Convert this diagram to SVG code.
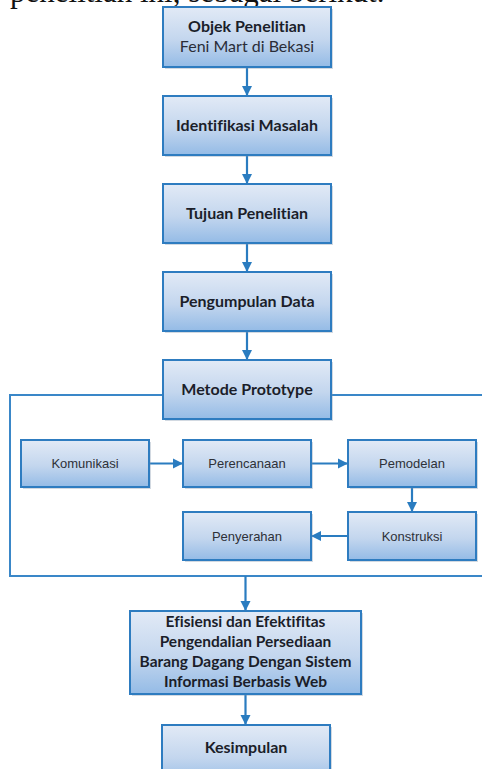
<svg xmlns="http://www.w3.org/2000/svg" width="482" height="769" viewBox="0 0 482 769">
  <defs>
    <linearGradient id="boxFill" x1="0" y1="0" x2="0" y2="1">
      <stop offset="0" stop-color="#e2eaf6"/>
      <stop offset="0.55" stop-color="#c3d6ee"/>
      <stop offset="1" stop-color="#94bbe6"/>
    </linearGradient>
    <marker id="arrow" viewBox="0 0 10 10" refX="10" refY="5" markerWidth="4.6" markerHeight="4.6" markerUnits="strokeWidth" orient="auto">
      <path d="M0,0 L10,5 L0,10 Z" fill="#2a7cc0"/>
    </marker>
    <style>
      .box { fill: url(#boxFill); stroke: #2e7cc0; stroke-width: 2; }
      .shadow { fill: #7f93a8; opacity: 0.35; }
      .title { font-family: Lato, "Open Sans", sans-serif; font-weight: bold; font-size: 16px; fill: #1b1e2a; text-anchor: middle; font-variant-ligatures: none; }
      .title.multi { font-size: 15.5px; }
      .sub { font-family: Lato, "Open Sans", sans-serif; font-size: 16px; fill: #2a2d38; text-anchor: middle; }
      .step { font-family: "Liberation Sans", Arial, sans-serif; font-size: 13px; fill: #2e3138; text-anchor: middle; }
      .conn { stroke: #2a7cc0; stroke-width: 2.2; fill: none; marker-end: url(#arrow); }
      .frame { stroke: #3a87c8; stroke-width: 2; fill: none; }
      .body { font-family: "Liberation Serif", "Times New Roman", serif; font-size: 31px; fill: #111; }
    </style>
  </defs>

  <rect width="482" height="769" fill="#ffffff"/>

  <!-- running text line above the chart, clipped by the page top -->
  <text class="body" x="10" y="2">penelitian ini, sebagai berikut.</text>

  <!-- prototype frame -->
  <g id="frame">
    <polyline class="frame" points="163,395 10,395 10,576 482,576"/>
    <line class="frame" x1="331" y1="395" x2="482" y2="395"/>
  </g>

  <!-- connectors -->
  <g id="connectors">
    <line class="conn" x1="247" y1="67" x2="247" y2="96"/>
    <line class="conn" x1="247" y1="155" x2="247" y2="184"/>
    <line class="conn" x1="247" y1="243" x2="247" y2="272"/>
    <line class="conn" x1="247" y1="331" x2="247" y2="360"/>
    <line class="conn" x1="149" y1="463.5" x2="183" y2="463.5"/>
    <line class="conn" x1="311" y1="463.5" x2="348" y2="463.5"/>
    <line class="conn" x1="412" y1="487" x2="412" y2="512"/>
    <line class="conn" x1="348" y1="536" x2="311" y2="536"/>
    <line class="conn" x1="245.5" y1="576" x2="245.5" y2="611"/>
    <line class="conn" x1="245.5" y1="694" x2="245.5" y2="725"/>
  </g>

  <g id="objek">
    <rect class="shadow" x="165" y="9" width="168" height="60"/>
    <rect class="box" x="163" y="7" width="168" height="60"/>
    <text class="title" x="247" y="32">Objek Penelitian</text>
    <text class="sub" x="247" y="52">Feni Mart di Bekasi</text>
  </g>

  <g id="identifikasi">
    <rect class="shadow" x="165" y="98" width="168" height="59"/>
    <rect class="box" x="163" y="96" width="168" height="59"/>
    <text class="title" x="247" y="131">Identifikasi Masalah</text>
  </g>

  <g id="tujuan">
    <rect class="shadow" x="165" y="186" width="168" height="59"/>
    <rect class="box" x="163" y="184" width="168" height="59"/>
    <text class="title" x="247" y="219">Tujuan Penelitian</text>
  </g>

  <g id="pengumpulan">
    <rect class="shadow" x="165" y="274" width="168" height="59"/>
    <rect class="box" x="163" y="272" width="168" height="59"/>
    <text class="title" x="247" y="307">Pengumpulan Data</text>
  </g>

  <g id="metode">
    <rect class="shadow" x="165" y="362" width="168" height="59"/>
    <rect class="box" x="163" y="360" width="168" height="59"/>
    <text class="title" x="247" y="395">Metode Prototype</text>
  </g>

  <g id="komunikasi">
    <rect class="shadow" x="23" y="442" width="128" height="47"/>
    <rect class="box" x="21" y="440" width="128" height="47"/>
    <text class="step" x="85" y="468">Komunikasi</text>
  </g>

  <g id="perencanaan">
    <rect class="shadow" x="185" y="442" width="128" height="47"/>
    <rect class="box" x="183" y="440" width="128" height="47"/>
    <text class="step" x="247" y="468">Perencanaan</text>
  </g>

  <g id="pemodelan">
    <rect class="shadow" x="350" y="442" width="128" height="47"/>
    <rect class="box" x="348" y="440" width="128" height="47"/>
    <text class="step" x="412" y="468">Pemodelan</text>
  </g>

  <g id="penyerahan">
    <rect class="shadow" x="185" y="514" width="128" height="48"/>
    <rect class="box" x="183" y="512" width="128" height="48"/>
    <text class="step" x="247" y="540.5">Penyerahan</text>
  </g>

  <g id="konstruksi">
    <rect class="shadow" x="350" y="514" width="128" height="48"/>
    <rect class="box" x="348" y="512" width="128" height="48"/>
    <text class="step" x="412" y="540.5">Konstruksi</text>
  </g>

  <g id="efisiensi">
    <rect class="shadow" x="132" y="613" width="231" height="83"/>
    <rect class="box" x="130" y="611" width="231" height="83"/>
    <text class="title multi" x="245.5" y="627">Efisiensi dan Efektifitas</text>
    <text class="title multi" x="245.5" y="647">Pengendalian Persediaan</text>
    <text class="title multi" x="245.5" y="667">Barang Dagang Dengan Sistem</text>
    <text class="title multi" x="245.5" y="687">Informasi Berbasis Web</text>
  </g>

  <g id="kesimpulan">
    <rect class="shadow" x="164" y="727" width="168" height="60"/>
    <rect class="box" x="162" y="725" width="168" height="60"/>
    <text class="title" x="246" y="753">Kesimpulan</text>
  </g>
</svg>
